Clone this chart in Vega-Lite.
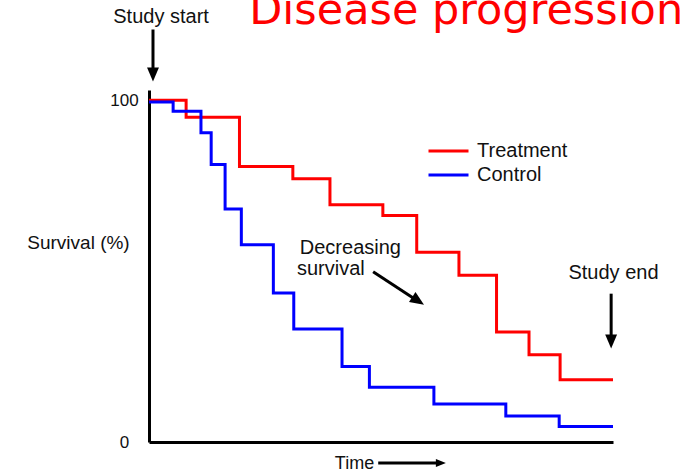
{
  "$schema": "https://vega.github.io/schema/vega-lite/v6.json",
  "width": 464,
  "height": 352,
  "autosize": {"type": "none"},
  "padding": {"left": 149, "top": 90, "right": 69, "bottom": 34},
  "background": "white",
  "config": {
    "view": {"stroke": null},
    "font": "Liberation Sans"
  },
  "datasets": {
    "curves": [
      {"group": "Treatment", "time": 0, "survival": 100},
      {"group": "Treatment", "time": 8.0, "survival": 95},
      {"group": "Treatment", "time": 19.5, "survival": 80.6},
      {"group": "Treatment", "time": 31.0, "survival": 77},
      {"group": "Treatment", "time": 39.0, "survival": 69.4},
      {"group": "Treatment", "time": 50.4, "survival": 66.3},
      {"group": "Treatment", "time": 57.7, "survival": 55.5},
      {"group": "Treatment", "time": 66.8, "survival": 48.8},
      {"group": "Treatment", "time": 74.9, "survival": 32.2},
      {"group": "Treatment", "time": 81.9, "survival": 25.5},
      {"group": "Treatment", "time": 88.6, "survival": 18.2},
      {"group": "Treatment", "time": 100, "survival": 18.2},
      {"group": "Control", "time": 0, "survival": 99.5},
      {"group": "Control", "time": 5.2, "survival": 96.8},
      {"group": "Control", "time": 11.2, "survival": 90.5},
      {"group": "Control", "time": 13.4, "survival": 81.2},
      {"group": "Control", "time": 16.4, "survival": 68.2},
      {"group": "Control", "time": 19.9, "survival": 57.7},
      {"group": "Control", "time": 26.8, "survival": 43.6},
      {"group": "Control", "time": 31.2, "survival": 33.1},
      {"group": "Control", "time": 41.6, "survival": 22.1},
      {"group": "Control", "time": 47.5, "survival": 16.0},
      {"group": "Control", "time": 61.4, "survival": 11.1},
      {"group": "Control", "time": 76.9, "survival": 7.6},
      {"group": "Control", "time": 88.4, "survival": 4.5},
      {"group": "Control", "time": 100, "survival": 4.5}
    ],
    "shafts": [
      {"time": 0.86, "survival": 120.7, "time2": 0.86, "survival2": 109.0},
      {"time": 99.6, "survival": 43.4, "time2": 99.6, "survival2": 30.5},
      {"time": 48.3, "survival": 49.8, "time2": 57.1, "survival2": 42.0},
      {"time": 49.4, "survival": -6.15, "time2": 62.1, "survival2": -6.15}
    ],
    "downHeads": [
      {"time": 0.86, "survival": 107.5},
      {"time": 99.6, "survival": 29.4}
    ],
    "timeHead": [
      {"time": 62.9, "survival": -6.15}
    ],
    "diagHead": [
      {"time": 58.0, "survival": 41.3}
    ],
    "notes": [
      {"time": 2.6, "survival": 124.4, "label": "Study start"},
      {"time": 100.1, "survival": 49.4, "label": "Study end"},
      {"time": 43.4, "survival": 56.7, "label": "Decreasing"},
      {"time": 39.2, "survival": 50.6, "label": "survival"}
    ],
    "heading": [
      {"time": 21.6, "survival": 122.3, "label": "Disease progression"}
    ]
  },
  "encoding": {
    "x": {
      "field": "time",
      "type": "quantitative",
      "scale": {"domain": [0, 100], "nice": false, "zero": false},
      "axis": {
        "title": "Time",
        "titleFontSize": 18,
        "titleFontWeight": "normal",
        "titleColor": "#111111",
        "titleAlign": "center",
        "titleBaseline": "middle",
        "titleX": 205,
        "titleY": 21,
        "labels": false,
        "ticks": false,
        "grid": false,
        "domainColor": "#000000",
        "domainWidth": 3
      }
    },
    "y": {
      "field": "survival",
      "type": "quantitative",
      "scale": {"domain": [0, 103], "nice": false, "zero": false},
      "axis": {
        "title": "Survival (%)",
        "titleAngle": 0,
        "titleFontSize": 19,
        "titleFontWeight": "normal",
        "titleColor": "#111111",
        "titleAlign": "center",
        "titleBaseline": "middle",
        "titleX": -71,
        "titleY": 152,
        "values": [0, 100],
        "ticks": false,
        "grid": false,
        "labelAlign": "center",
        "labelPadding": 25,
        "labelFontSize": 17,
        "labelColor": "#111111",
        "labelFlush": false,
        "domainColor": "#000000",
        "domainWidth": 3
      }
    }
  },
  "layer": [
    {
      "data": {"name": "curves"},
      "mark": {"type": "line", "interpolate": "step-after", "strokeWidth": 3},
      "encoding": {
        "color": {
          "field": "group",
          "type": "nominal",
          "scale": {"domain": ["Treatment", "Control"], "range": ["#ff0000", "#0000ff"]},
          "legend": {
            "orient": "none",
            "legendX": 278,
            "legendY": 50,
            "title": null,
            "symbolType": "stroke",
            "symbolSize": 1600,
            "symbolStrokeWidth": 3,
            "labelFontSize": 20,
            "labelOffset": 7,
            "labelColor": "#111111",
            "clipHeight": 22,
            "rowPadding": 2,
            "padding": 0
          }
        }
      }
    },
    {
      "data": {"name": "shafts"},
      "mark": {"type": "rule", "strokeWidth": 3, "color": "#000000"},
      "encoding": {
        "x2": {"field": "time2"},
        "y2": {"field": "survival2"}
      }
    },
    {
      "data": {"name": "downHeads"},
      "mark": {"type": "point", "shape": "M-0.85,-1L0.85,-1L0,1Z", "size": 196, "filled": true, "color": "#000000", "opacity": 1}
    },
    {
      "data": {"name": "timeHead"},
      "mark": {"type": "point", "shape": "M-1,-0.8L-1,0.8L1,0Z", "size": 100, "filled": true, "color": "#000000", "opacity": 1}
    },
    {
      "data": {"name": "diagHead"},
      "mark": {"type": "point", "shape": "M-1,-0.85L-1,0.85L1,0Z", "size": 196, "angle": 32.9, "filled": true, "color": "#000000", "opacity": 1}
    },
    {
      "data": {"name": "notes"},
      "mark": {"type": "text", "fontSize": 20, "align": "center", "baseline": "middle", "color": "#111111"},
      "encoding": {
        "text": {"field": "label", "type": "nominal"}
      }
    },
    {
      "data": {"name": "heading"},
      "mark": {"type": "text", "fontSize": 43, "font": "DejaVu Sans", "align": "left", "baseline": "alphabetic", "color": "#ff0000"},
      "encoding": {
        "text": {"field": "label", "type": "nominal"}
      }
    }
  ]
}
